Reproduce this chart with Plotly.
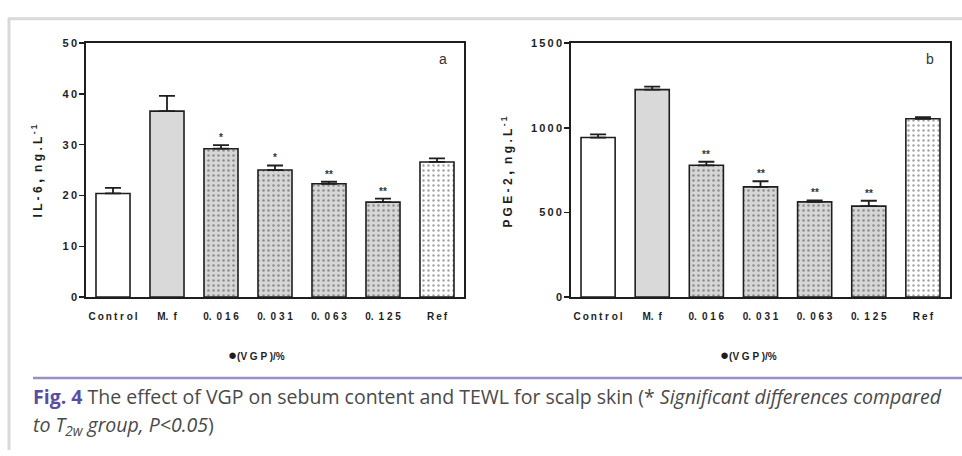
import plotly.graph_objects as go

# ---------------- data ----------------
categories = ["Control", "M.f", "0.016", "0.031", "0.063", "0.125", "Ref"]
tick_text = ["C\u2009o\u2009n\u2009t r o\u2009l", "M.\u2002f",
             "0.\u20020 1 6", "0.\u20020 3 1", "0.\u20020 6 3",
             "0.\u20021 2 5", "R\u2009e\u2009f"]

il6_mean = [20.4, 36.6, 29.2, 25.0, 22.3, 18.7, 26.6]
il6_err = [1.1, 3.0, 0.7, 0.9, 0.4, 0.7, 0.7]
il6_sig = ["", "", "*", "*", "**", "**", ""]

pge2_mean = [942, 1225, 778, 651, 562, 537, 1053]
pge2_err = [19, 17, 21, 33, 9, 32, 10]
pge2_sig = ["", "", "**", "**", "**", "**", ""]

il6_ticks = [0, 10, 20, 30, 40, 50]
pge2_ticks = [0, 500, 1000, 1500]

# ---------------- styles ----------------
FONT = "Arial, Liberation Sans, sans-serif"
DARK = "#1e1e1e"
bar_colors = ["#ffffff", "#d9d9d9", "#d6d6d6", "#d6d6d6", "#d6d6d6", "#d6d6d6", "#ffffff"]
pat_shapes = ["", "", ".", ".", ".", ".", "."]
pat_fg = ["#333333"] * 7
pat_size = [5, 5, 5, 5, 5, 5, 5]
pat_sol = [0.2, 0.2, 0.2, 0.2, 0.2, 0.2, 0.18]

W, H = 962, 456


def px_x(p):
    return p / W


def px_y(p):
    return 1 - p / H


def spaced(n):
    return "\u2009".join(str(n))


fig = go.Figure()

panels = [
    dict(x="x", y="y", mean=il6_mean, err=il6_err, sig=il6_sig),
    dict(x="x2", y="y2", mean=pge2_mean, err=pge2_err, sig=pge2_sig),
]

for p in panels:
    fig.add_trace(go.Bar(
        x=list(range(len(categories))), y=p["mean"], xaxis=p["x"], yaxis=p["y"],
        width=0.63,
        marker=dict(
            color=bar_colors,
            line=dict(color=DARK, width=1.6),
            pattern=dict(shape=pat_shapes, fgcolor=pat_fg, size=pat_size,
                         solidity=pat_sol, fillmode="overlay"),
        ),
        error_y=dict(type="data", array=p["err"], arrayminus=[0] * 7,
                     symmetric=False, color=DARK, thickness=1.8, width=8),
        showlegend=False, hoverinfo="skip",
    ))
    for i, (m, e, s) in enumerate(zip(p["mean"], p["err"], p["sig"])):
        if s:
            fig.add_annotation(x=i, y=m + e, xref=p["x"], yref=p["y"], text=s,
                               showarrow=False, xanchor="center", yanchor="bottom", yshift=0,
                               font=dict(family=FONT, size=10, color="#333333", weight="bold"))

axis_common = dict(showline=True, linecolor=DARK, linewidth=1.8, mirror=True,
                   showgrid=False, zeroline=False, fixedrange=True)

xdom1 = [px_x(86), px_x(464)]
xdom2 = [px_x(571), px_x(950)]
ydom = [px_y(299), px_y(38)]

xaxis_common = dict(axis_common, range=[-0.5, 6.5], tickvals=list(range(7)), ticktext=tick_text,
                    ticks="outside", ticklen=9, tickcolor="rgba(0,0,0,0)",
                    tickfont=dict(family=FONT, size=10, color=DARK, weight="bold"))
yaxis_common = dict(axis_common, ticks="outside", ticklen=5, tickwidth=1.6, tickcolor=DARK,
                    tickfont=dict(family=FONT, size=11, color=DARK, weight="bold"))

fig.update_layout(
    width=W, height=H,
    margin=dict(l=0, r=0, t=0, b=0),
    paper_bgcolor="white", plot_bgcolor="white",
    xaxis=dict(xaxis_common, domain=xdom1, anchor="y"),
    yaxis=dict(yaxis_common, domain=ydom, anchor="x", range=[0, 50],
               tickvals=il6_ticks, ticktext=[spaced(t) for t in il6_ticks]),
    xaxis2=dict(xaxis_common, domain=xdom2, anchor="y2"),
    yaxis2=dict(yaxis_common, domain=ydom, anchor="x2", range=[0, 1500],
                tickvals=pge2_ticks, ticktext=[spaced(t) for t in pge2_ticks]),
)


def paper_text(xp, yp, text, font, **kw):
    args = dict(x=px_x(xp), y=px_y(yp), xref="paper", yref="paper", text=text,
                showarrow=False, xanchor="center", yanchor="middle", font=font)
    args.update(kw)
    fig.add_annotation(**args)


# panel letters
for txt, xp in [("a", 443), ("b", 930)]:
    paper_text(xp, 54, txt, dict(family=FONT, size=14, color="#333333"))

# y-axis titles
ytitle_font = dict(family=FONT, size=12, color=DARK, weight="bold")
paper_text(37, 170, "I L - 6 <span style='font-size:16px'>,</span>  n g . L<sup> - 1</sup>",
           ytitle_font, textangle=-90)
paper_text(507, 170, "P G E - 2 <span style='font-size:16px'>,</span>  n g . L<sup> - 1</sup>",
           ytitle_font, textangle=-90)

# x-axis titles
for xc in [256, 748]:
    paper_text(xc, 358, "<span style='font-size:15px'>●</span>(V G P )/%",
               dict(family=FONT, size=10, color=DARK, weight="bold"))

# frame lines and separator
fig.add_shape(type="line", xref="paper", yref="paper", x0=px_x(8), x1=1, y0=px_y(13), y1=px_y(13),
              line=dict(color="#d9d9d9", width=3))
fig.add_shape(type="line", xref="paper", yref="paper", x0=px_x(9), x1=px_x(9), y0=px_y(12), y1=0,
              line=dict(color="#d9d9d9", width=3))
fig.add_shape(type="line", xref="paper", yref="paper", x0=px_x(33), x1=1, y0=px_y(382), y1=px_y(382),
              line=dict(color="#9a8fc6", width=2.5))

# caption
cap_font = dict(family="Open Sans, sans-serif", size=19.5, color="#4a4a4a")
paper_text(31, 401,
           "<b><span style='color:#5b4c9f'>Fig. 4</span></b> The effect of VGP on sebum content and TEWL for scalp skin (* <i>Significant differences compared</i>",
           cap_font, xanchor="left")
paper_text(31, 431, "<i>to T<sub>2w</sub> group, P&lt;0.05</i>)", cap_font, xanchor="left")

fig.write_html(
    "out.html",
    config={"displayModeBar": False, "staticPlot": True},
    post_script=("document.body.style.margin='0';document.body.style.overflow='hidden';"
                 "var g=document.querySelector('.plotly-graph-div');"
                 "g.style.position='absolute';g.style.top='0px';g.style.left='0px';"),
)
